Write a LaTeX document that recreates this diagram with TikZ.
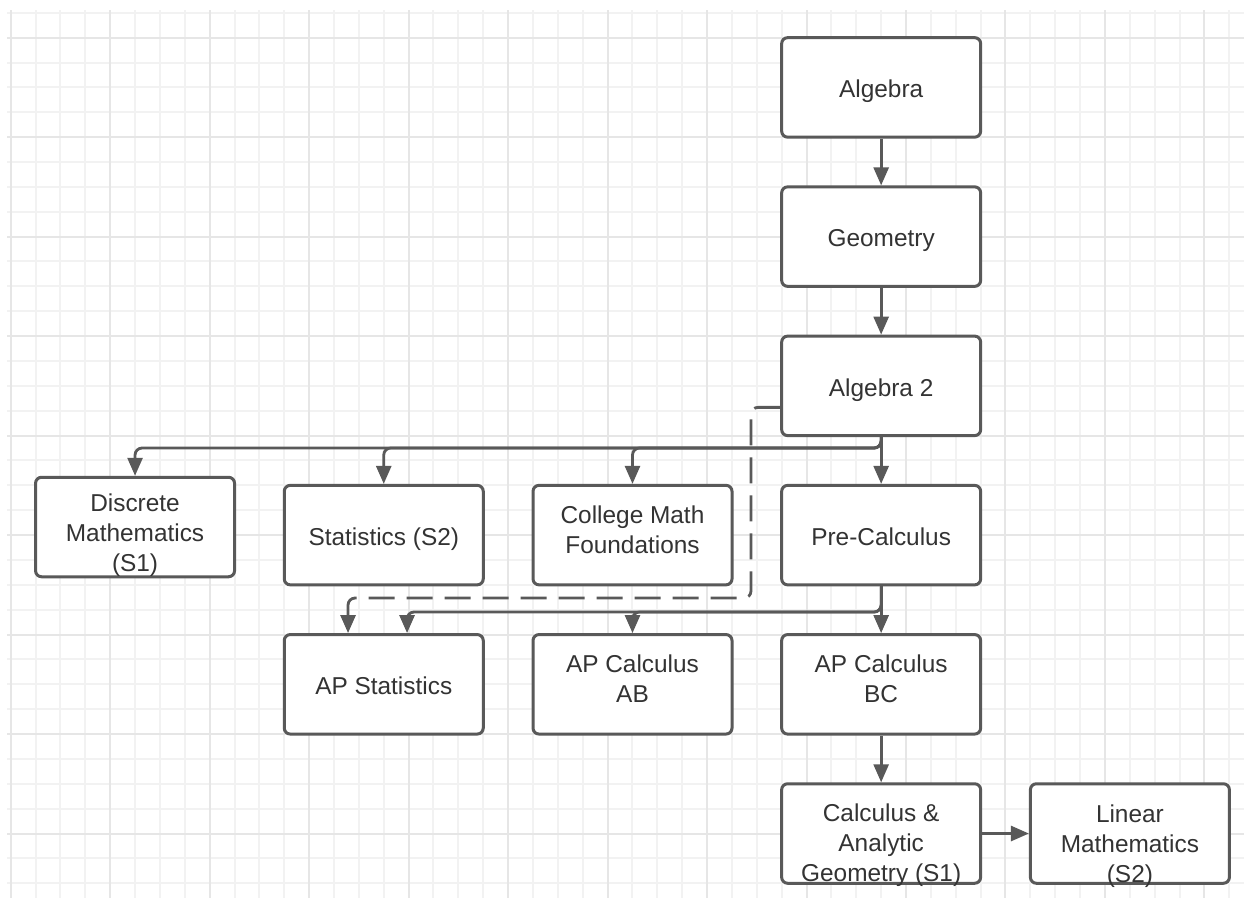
\documentclass[tikz,border=0pt]{standalone}
\usepackage{fontspec}
\setmainfont{Liberation Sans}
\usetikzlibrary{arrows.meta}
\definecolor{gridminor}{HTML}{F2F2F2}
\definecolor{gridmajor}{HTML}{E6E6E6}
\definecolor{linec}{HTML}{595959}
\definecolor{txtc}{HTML}{333333}
\newcommand\bt[2]{\raisebox{#1}[0pt][0pt]{\begin{tabular}{@{}c@{}}#2\end{tabular}}}
\begin{document}
\begin{tikzpicture}[x=1pt,y=-1pt,
  box/.style={draw=linec,line width=3pt,rounded corners=6pt,fill=white,
    minimum width=199pt,minimum height=99.5pt,inner sep=0pt,text=txtc,
    font=\fontsize{24.4}{30}\selectfont},
  conn/.style={draw=linec,line width=2.8pt,rounded corners=7pt,
    -{Triangle[width=15pt,length=18pt]}},
  dconn/.style={conn,dash pattern=on 26pt off 12pt},
  gmin/.style={draw=gridminor,line width=2pt},
  gmaj/.style={draw=gridmajor,line width=2pt}]
\useasboundingbox (0,0) rectangle (1244,898);
\fill[white] (0,0) rectangle (1244,898);
% grid
\foreach \k in {0,...,49} \draw[gmin] ({round(10.7+\k*24.87)},10) -- ({round(10.7+\k*24.87)},898);
\foreach \k in {0,...,35} \draw[gmin] (7,{round(12.8+\k*24.87)}) -- (1244,{round(12.8+\k*24.87)});
\foreach \k in {0,4,...,48} \draw[gmaj] ({round(10.7+\k*24.87)},10) -- ({round(10.7+\k*24.87)},898);
\foreach \k in {1,5,...,33} \draw[gmaj] (7,{round(12.8+\k*24.87)}) -- (1244,{round(12.8+\k*24.87)});
% boxes
\node[box] (alg)  at (881.15,87.4)  {\bt{-10.5pt}{Algebra}};
\node[box] (geo)  at (881.15,236.6) {\bt{-10.5pt}{Geometry}};
\node[box] (alg2) at (881.15,385.85){\bt{-10.5pt}{Algebra 2}};
\node[box] (dm)   at (135.05,527)   {\bt{-15pt}{Discrete\\Mathematics\\(S1)}};
\node[box] (st)   at (383.75,535.1) {\bt{-10.5pt}{Statistics (S2)}};
\node[box] (cmf)  at (632.5,535.1)  {\bt{-3.5pt}{College Math\\Foundations}};
\node[box] (pre)  at (881.15,535.1) {\bt{-10.5pt}{Pre-Calculus}};
\node[box] (aps)  at (383.75,684.3) {\bt{-10.5pt}{AP Statistics}};
\node[box] (apab) at (632.5,684.3)  {\bt{-3pt}{AP Calculus\\AB}};
\node[box] (bc)   at (881.15,684.3) {\bt{-3pt}{AP Calculus\\BC}};
\node[box] (cag)  at (881.15,833.5) {\bt{-18pt}{Calculus \&\\Analytic\\Geometry (S1)}};
\node[box] (lin)  at (1129.9,833.5) {\bt{-19pt}{Linear\\Mathematics\\(S2)}};
% junctions
\coordinate (j1) at (881.15,448);
\coordinate (j2) at (881.15,612);
\coordinate (dturn) at (751,598);
% connectors
\draw[conn] (alg) -- (geo);
\draw[conn] (geo) -- (alg2);
\draw[conn] (alg2.south) -- (j1) -| (dm.north);
\draw[conn] (alg2.south) -- (j1) -| (st.north);
\draw[conn] (alg2.south) -- (j1) -| (cmf.north);
\draw[conn] (alg2.south) -- (pre.north);
\draw[conn] (pre.south) -- (j2) -| ([xshift=23.3pt]aps.north);
\draw[conn] (pre.south) -- (j2) -| (apab.north);
\draw[conn] (pre.south) -- (bc.north);
\draw[dconn] ([yshift=-21.5pt]alg2.west) -| (dturn) -| ([xshift=-35.7pt]aps.north);
\draw[conn] (bc) -- (cag);
\draw[conn] (cag) -- (lin);
\end{tikzpicture}
\end{document}
